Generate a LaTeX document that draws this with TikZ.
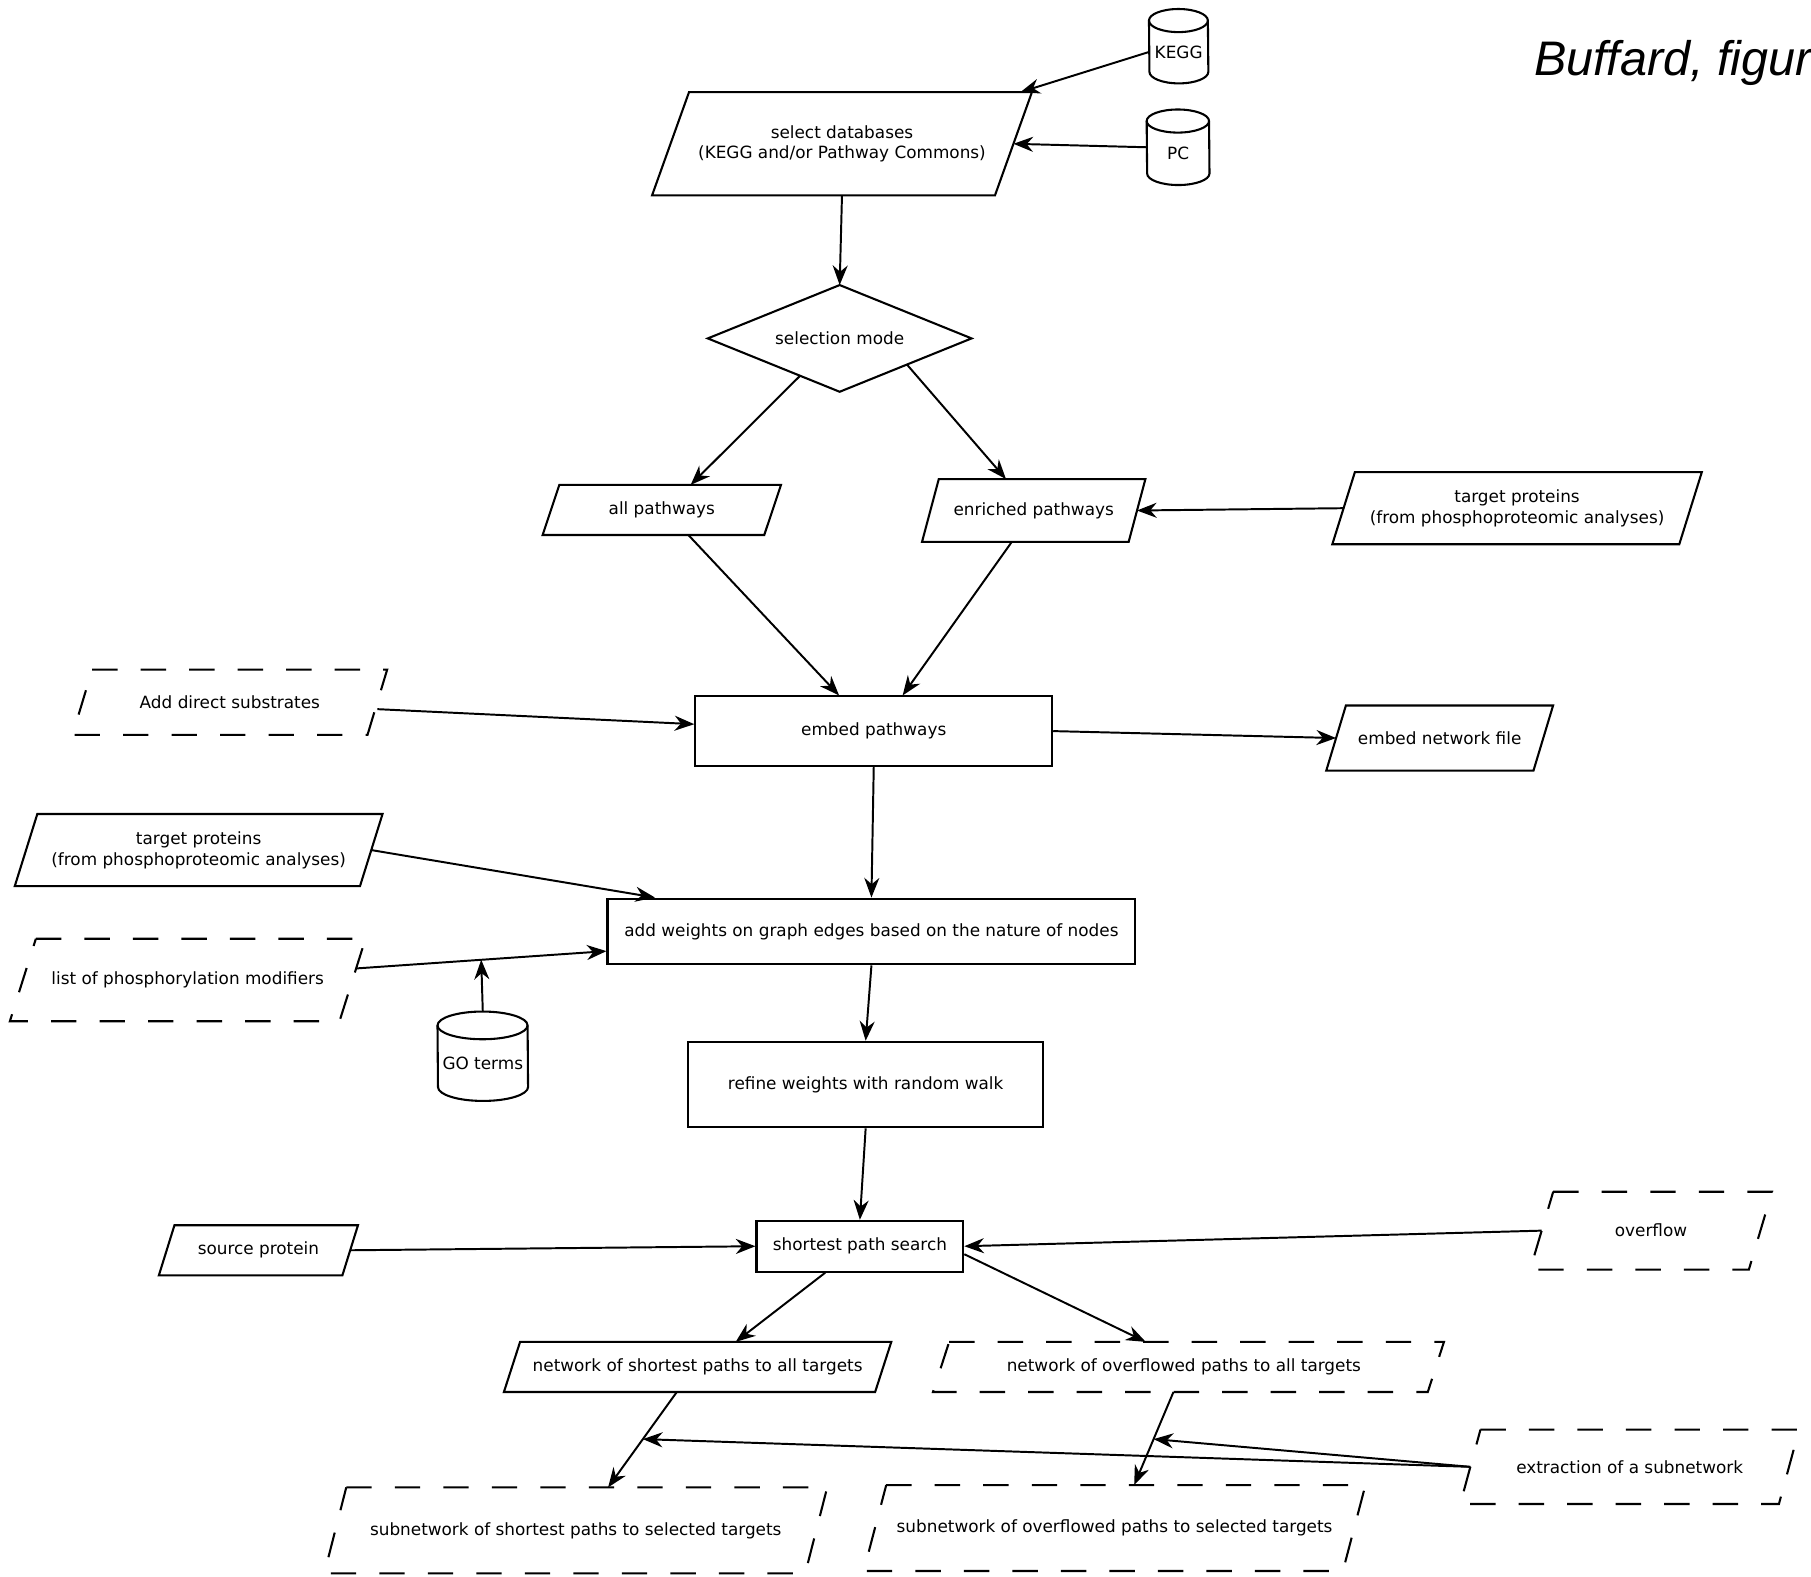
\documentclass[tikz,border=0pt]{standalone}
\usepackage{fontspec}
\setmainfont{DejaVu Sans}
\newfontfamily\titlefont{Liberation Sans}
\usetikzlibrary{calc,arrows.meta}
\tikzset{
  box/.style={draw, line width=1.8pt, rectangle, inner sep=0pt, align=center},
  pg/.style={rectangle, inner sep=0pt, align=center},
  cyl/.style={rectangle, inner sep=0pt},
  arr/.style={line width=1.7pt, -{Stealth[length=17pt,width=13pt,inset=5.5pt]}},
  dsh/.style={dash pattern=on 22pt off 20pt},
  outl/.style={line width=1.8pt, line join=miter}
}
\newcommand{\pgram}[3][]{\draw[outl,#1] ($(#2.north west)+(#3/2,0)$) -- ($(#2.north east)+(#3/2,0)$) -- ($(#2.south east)-(#3/2,0)$) -- ($(#2.south west)-(#3/2,0)$) -- cycle;}
\newcommand{\dbcyl}[3]{%
  \draw[outl] ($(#1.north west)+(0,#3)$) arc[start angle=180,end angle=0,x radius=#2pt,y radius=#3pt]
     -- ($(#1.south east)-(0,#3)$) arc[start angle=0,end angle=-180,x radius=#2pt,y radius=#3pt] -- cycle;
  \draw[outl] ($(#1.north west)+(0,#3)$) arc[start angle=180,end angle=360,x radius=#2pt,y radius=#3pt];}
\begin{document}
\begin{tikzpicture}[x=1pt,y=-1pt,font=\fontsize{14.6}{18}\selectfont]
\clip (0,0) rectangle (1568,1365);
\fill[white] (0,0) rectangle (1568,1365);

% title (cut off at the right edge, as in the reference)
\node[anchor=base west, inner sep=0pt, font=\titlefont\itshape\fontsize{42}{50}\selectfont] (title) at (1328,65) {Buffard, figure};

% databases
\node[cyl, minimum width=51pt, minimum height=64pt] (kegg) at (1020.5,40) {\raisebox{-5pt}[\height][0pt]{KEGG}};
\dbcyl{kegg}{25.5}{10}
\node[cyl, minimum width=54pt, minimum height=65pt] (pc) at (1020,127.5) {\raisebox{-5pt}[\height][0pt]{PC}};
\dbcyl{pc}{27}{10}
\node[cyl, minimum width=78pt, minimum height=77pt] (go) at (418,914.5) {\raisebox{-6pt}[\height][0pt]{GO terms}};
\dbcyl{go}{39}{12}

% parallelograms
\node[pg, minimum width=296.5pt, minimum height=89pt] (sel) at (729,124.5) {select databases\\(KEGG and/or Pathway Commons)};
\pgram{sel}{32}
\node[pg, minimum width=191.5pt, minimum height=43pt] (allp) at (573,441.5) {all pathways};
\pgram{allp}{14.5}
\node[pg, minimum width=178.5pt, minimum height=54pt] (enr) at (895,442) {enriched pathways};
\pgram{enr}{14.5}
\node[pg, minimum width=300pt, minimum height=62pt] (tgtR) at (1313.5,440) {target proteins\\(from phosphoproteomic analyses)};
\pgram{tgtR}{19.5}
\node[pg, minimum width=255pt, minimum height=56pt] (ads) at (199,608) {Add direct substrates};
\pgram[dsh]{ads}{17}
\node[pg, minimum width=179pt, minimum height=56pt] (enf) at (1246.5,639) {embed network file};
\pgram{enf}{17}
\node[pg, minimum width=298.5pt, minimum height=62pt] (tgtL) at (172,736) {target proteins\\(from phosphoproteomic analyses)};
\pgram{tgtL}{19.5}
\node[pg, minimum width=285pt, minimum height=71pt] (lpm) at (162.5,848.5) {list of phosphorylation modifiers};
\pgram[dsh]{lpm}{22.5}
\node[pg, minimum width=158.5pt, minimum height=43pt] (src) at (223.75,1082.5) {source protein};
\pgram{src}{13.5}
\node[pg, minimum width=189pt, minimum height=67pt] (ovf) at (1429.5,1065.5) {overflow};
\pgram[dsh]{ovf}{20}
\node[pg, minimum width=321pt, minimum height=43pt] (nsp) at (604,1183.5) {network of shortest paths to all targets};
\pgram{nsp}{14}
\node[pg, minimum width=428pt, minimum height=43pt] (nof) at (1029,1183.5) {\hspace*{-8pt}network of overflowed paths to all targets};
\pgram[dsh]{nof}{14}
\node[pg, minimum width=275.5pt, minimum height=64pt] (ext) at (1411,1270) {extraction of a subnetwork};
\pgram[dsh]{ext}{17.5}
\node[pg, minimum width=416pt, minimum height=74pt] (ssp) at (498.5,1325) {subnetwork of shortest paths to selected targets};
\pgram[dsh]{ssp}{19}
\node[pg, minimum width=414.5pt, minimum height=74pt] (sof) at (965,1323) {subnetwork of overflowed paths to selected targets};
\pgram[dsh]{sof}{19.5}

% diamond
\node[pg, minimum width=228pt, minimum height=92pt] (dm) at (727,293) {selection mode};
\draw[outl] (dm.north) -- (dm.east) -- (dm.south) -- (dm.west) -- cycle;

% rectangles
\node[box, minimum width=309pt, minimum height=60pt] (emb) at (756.5,633) {embed pathways};
\node[box, minimum width=457pt, minimum height=57pt] (aw) at (754.5,806.5) {add weights on graph edges based on the nature of nodes};
\node[box, minimum width=307pt, minimum height=74pt] (ref) at (749.5,939) {refine weights with random walk};
\node[box, minimum width=179pt, minimum height=44pt] (sps) at (744.5,1079) {shortest path search};

% connectors
\draw[arr] (kegg.west |- 0,45) -- ($(sel.north east)+(6,0)$);
\draw[arr] (pc.west) -- (sel.east);
\draw[arr] (sel.south) -- (dm.north);
\draw[arr] ($(dm.west)!0.7!(dm.south)$) -- ($(allp.north)+(25,0)$);
\draw[arr] ($(dm.east)!0.49!(dm.south)$) -- ($(enr.north)+(-24,0)$);
\draw[arr] (tgtR.west) -- (enr.east);
\draw[arr] ($(allp.south)+(23,0)$) -- ($(emb.north)+(-30,0)$);
\draw[arr] ($(enr.south)+(-19,0)$) -- ($(emb.north)+(25,0)$);
\draw[arr] ($(ads.east)+(0,6)$) -- ($(emb.west)+(0,-6)$);
\draw[arr] (emb.east) -- (enf.west);
\draw[arr] (emb.south) -- (aw.north);
\draw[arr] (tgtL.east) -- ($(aw.north west)+(42,0)$);
\draw[arr] ($(lpm.east)+(3,-10)$) -- coordinate[pos=0.5] (goj) ($(aw.west)+(0,17)$);
\draw[arr] (go.north) -- (goj);
\draw[arr] (aw.south) -- (ref.north);
\draw[arr] (ref.south) -- (sps.north);
\draw[arr] (src.east) -- (sps.west);
\draw[arr] (ovf.west) -- (sps.east);
\draw[arr] ($(sps.south)+(-30,0)$) -- ($(nsp.north)+(33,0)$);
\draw[arr] ($(sps.south east)+(0,-16)$) -- ($(nof.north)+(-37,0)$);
\draw[arr] ($(nsp.south)+(-18,0)$) -- coordinate[pos=0.494] (j1) ($(ssp.north)+(28,0)$);
\draw[arr] ($(nof.south)+(-13,0)$) -- coordinate[pos=0.506] (j2) ($(sof.north)+(17,0)$);
\draw[arr] (ext.west) -- (j1);
\draw[arr] (ext.west) -- (j2);
\end{tikzpicture}
\end{document}
